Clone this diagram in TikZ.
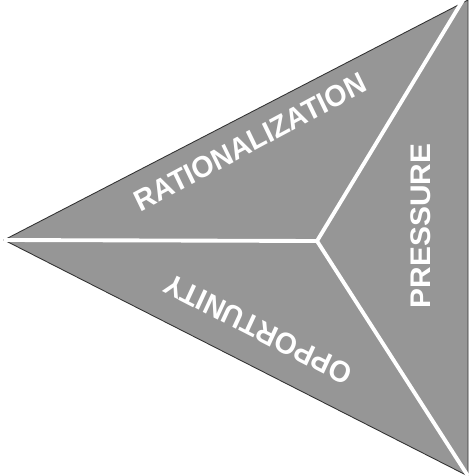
\documentclass[tikz,border=0pt]{standalone}
\usepackage{fontspec}
\setmainfont{Liberation Sans}
\usetikzlibrary{positioning}
\definecolor{halftone}{RGB}{150,150,150}

\begin{document}
\begin{tikzpicture}[
    x=0.02cm, y=-0.02cm,
    face/.style={fill=halftone, draw=black!80, line width=0.5pt},
    divider/.style={draw=white, line width=2.2pt},
    sidelabel/.style={font=\fontsize{17}{19}\selectfont\bfseries, text=white, inner sep=0pt, xscale=0.95},
]
\useasboundingbox (0,0) rectangle (469,476);

% === TRIANGLE ===
\coordinate (apex) at (4,240);
\coordinate (topv) at (468,0);
\coordinate (botv) at (468,476);
\coordinate (hub) at (317,241);
\draw[face] (apex) -- (topv) -- (botv) -- cycle;

% === DIVIDERS ===
\draw[divider] (hub) -- (apex);
\draw[divider] (hub) -- ([xshift=-0.1cm]topv);
\draw[divider] (hub) -- (botv);

% === LABELS ===
\node[sidelabel, rotate=27] (rationalization) at (250,142) {RATIONALIZATION};
\node[sidelabel, rotate=90] (pressure) at (421,226) {PRESSURE};
\node[sidelabel, rotate=154] (opportunity) at (258,329) {OPPORTUNITY};

\end{tikzpicture}
\end{document}
